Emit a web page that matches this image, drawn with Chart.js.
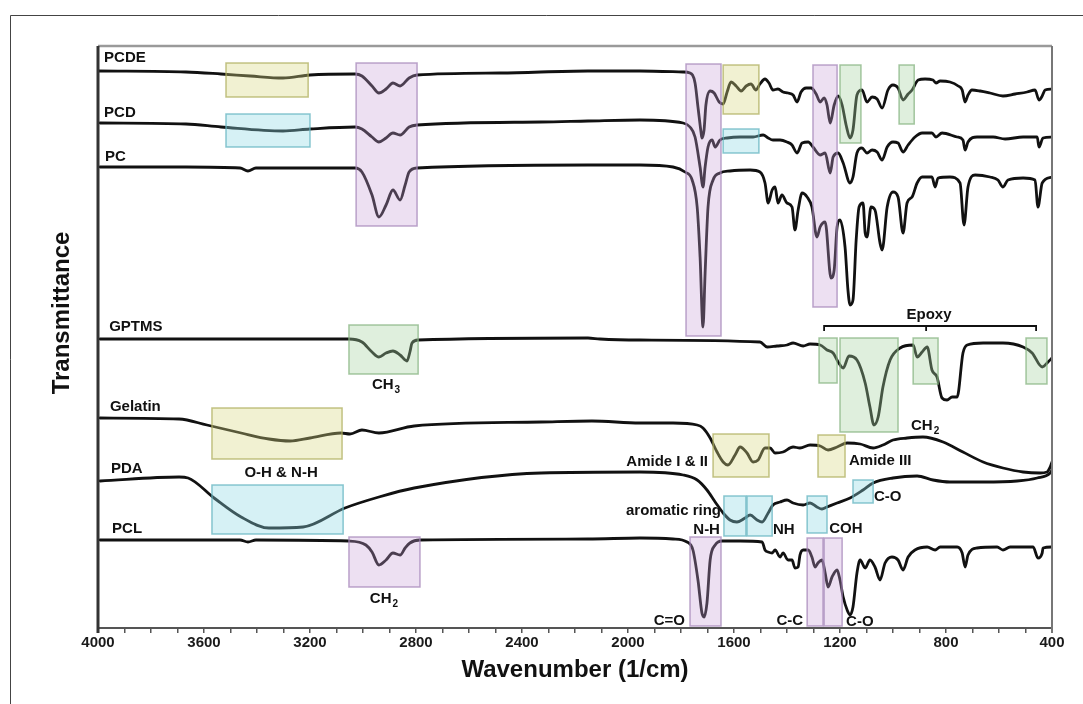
<!DOCTYPE html>
<html><head><meta charset="utf-8">
<script src="https://cdn.jsdelivr.net/npm/chart.js@4.4.1/dist/chart.umd.min.js"></script>
<style>html,body{margin:0;padding:0;background:#fff;}canvas{display:block;}</style>
</head><body>
<canvas id="c" width="1083" height="704"></canvas>
<script>
// ---- data: [wavenumber (1/cm), transmittance (a.u., stacked)] ----
const PCDE = [[4000,111.4],[3668,111.2],[3536,110.8],[3426,110.4],[3302,110.0],[3200,110.6],[3030,110.8],[3004,110.4],[2966,108.4],[2940,107.0],[2913,107.8],[2887,109.0],[2860,108.4],[2826,110.0],[2796,110.6],[2483,111.0],[2151,111.4],[1955,111.4],[1792,111.2],[1766,111.0],[1747,109.0],[1736,104.2],[1724,99.0],[1721,98.0],[1713,99.6],[1706,104.6],[1690,107.4],[1675,107.0],[1656,105.2],[1641,104.8],[1626,107.2],[1611,109.2],[1592,108.4],[1573,107.4],[1554,108.4],[1536,108.8],[1517,107.6],[1502,108.8],[1483,109.8],[1468,109.0],[1453,107.6],[1434,107.8],[1415,107.2],[1396,107.0],[1377,106.6],[1362,105.2],[1347,107.2],[1328,108.0],[1309,108.0],[1290,106.8],[1275,105.2],[1260,106.0],[1249,104.6],[1237,101.0],[1222,104.6],[1207,106.4],[1192,104.6],[1177,100.6],[1162,98.0],[1151,99.6],[1136,106.6],[1117,107.6],[1098,105.2],[1079,106.2],[1060,105.8],[1041,104.0],[1019,107.6],[1000,108.6],[981,108.0],[962,105.6],[943,106.8],[928,107.6],[905,109.6],[879,109.8],[849,109.6],[838,109.0],[822,109.4],[785,109.2],[754,108.4],[739,107.6],[728,105.2],[717,106.6],[702,107.6],[671,107.4],[634,107.0],[585,106.4],[539,106.8],[494,107.2],[464,107.6],[449,105.6],[437,106.4],[426,107.6],[400,107.8]];
const PCD = [[3992,101.0],[3668,100.8],[3536,100.2],[3302,99.4],[3200,99.8],[3030,100.2],[3004,99.8],[2966,98.2],[2940,97.2],[2913,98.0],[2887,99.0],[2860,98.6],[2826,100.2],[2796,100.6],[2328,101.2],[2151,101.4],[1955,101.6],[1792,101.0],[1766,100.2],[1747,98.2],[1728,92.2],[1717,88.2],[1709,92.2],[1698,96.2],[1683,97.6],[1671,96.2],[1653,97.6],[1626,98.0],[1577,98.2],[1528,98.2],[1490,98.6],[1471,98.0],[1453,97.6],[1426,97.6],[1400,97.2],[1381,96.6],[1362,95.0],[1343,97.0],[1320,97.2],[1302,96.2],[1275,94.6],[1256,95.0],[1237,91.0],[1226,94.2],[1207,95.0],[1188,93.0],[1162,89.0],[1151,90.2],[1136,95.0],[1117,96.0],[1098,95.0],[1079,95.6],[1060,95.2],[1041,93.6],[1022,96.2],[1000,97.2],[981,97.0],[962,95.2],[943,96.6],[917,98.2],[890,99.0],[853,99.0],[838,98.2],[815,99.0],[758,98.2],[736,97.6],[728,95.6],[717,97.2],[683,98.2],[622,98.2],[577,97.8],[509,98.2],[456,98.2],[449,96.2],[434,98.0],[400,98.2]];
const PC = [[3992,92.2],[3668,92.2],[3464,92.0],[3434,91.4],[3404,92.0],[3030,92.0],[3004,91.2],[2966,86.6],[2940,82.2],[2913,84.6],[2887,87.6],[2860,85.6],[2841,88.6],[2826,91.2],[2796,92.0],[2151,92.6],[1955,92.6],[1830,92.2],[1785,91.2],[1758,89.6],[1739,84.2],[1728,74.2],[1717,60.2],[1709,71.0],[1698,84.2],[1679,89.6],[1653,91.0],[1615,91.4],[1539,91.6],[1502,91.2],[1483,89.0],[1471,85.0],[1456,87.6],[1445,88.2],[1434,85.0],[1419,86.6],[1400,85.0],[1381,84.2],[1370,79.6],[1358,83.6],[1343,87.0],[1324,86.2],[1306,84.2],[1287,78.2],[1275,80.2],[1256,81.2],[1234,70.0],[1222,71.6],[1211,80.2],[1200,81.6],[1181,76.2],[1170,67.6],[1162,64.6],[1151,65.6],[1139,77.6],[1128,84.2],[1113,85.0],[1105,79.0],[1098,78.2],[1083,84.2],[1068,83.6],[1049,77.0],[1041,75.6],[1022,84.2],[1000,87.2],[981,86.2],[962,79.0],[947,85.0],[928,86.2],[909,89.0],[890,90.2],[853,90.2],[841,88.2],[830,90.0],[785,90.2],[747,89.0],[732,80.6],[717,88.2],[690,90.6],[634,90.2],[604,89.6],[585,88.2],[566,89.6],[509,90.0],[464,89.6],[453,84.2],[437,89.0],[400,90.2]];
const GPTMS = [[3992,57.8],[3053,57.8],[3004,57.2],[2966,55.2],[2940,54.2],[2913,55.0],[2887,55.4],[2860,54.6],[2834,53.4],[2823,55.2],[2815,57.0],[2792,57.6],[2151,58.0],[2106,57.8],[1955,57.6],[1502,57.2],[1475,56.2],[1438,56.4],[1400,56.6],[1377,57.0],[1339,56.4],[1313,56.8],[1275,56.6],[1249,55.6],[1226,55.0],[1207,53.2],[1188,52.0],[1166,54.4],[1136,53.6],[1105,49.0],[1087,44.2],[1072,40.6],[1056,42.2],[1038,48.2],[1011,53.6],[973,56.0],[924,56.6],[909,54.2],[890,55.2],[871,56.2],[853,51.6],[834,50.2],[815,46.0],[796,45.6],[777,46.2],[758,46.2],[736,55.0],[720,56.6],[660,57.0],[585,57.0],[509,56.2],[475,55.0],[437,52.2],[415,53.2],[400,54.0]];
const Gelatin = [[3992,42.0],[3694,41.8],[3589,40.6],[3460,39.0],[3355,37.8],[3275,37.4],[3200,38.0],[3083,39.0],[3049,38.8],[3004,39.6],[2940,39.0],[2807,40.4],[2328,41.2],[2136,41.4],[1955,41.0],[1830,41.0],[1739,40.6],[1717,40.0],[1690,38.0],[1664,35.2],[1641,33.2],[1623,32.6],[1596,34.6],[1577,36.2],[1551,35.0],[1528,33.2],[1509,33.6],[1483,36.0],[1464,36.0],[1445,35.0],[1415,35.2],[1377,36.2],[1351,36.0],[1313,36.6],[1275,36.4],[1245,35.6],[1211,36.2],[1173,37.0],[1124,36.8],[1075,36.0],[1038,36.6],[1000,37.6],[947,38.0],[887,38.2],[811,37.2],[736,35.2],[660,33.2],[585,32.0],[509,31.2],[445,31.0],[419,31.2],[407,32.2],[400,33.2]];
const PDA = [[3992,29.4],[3694,30.2],[3660,30.0],[3562,26.0],[3460,22.2],[3355,20.0],[3226,20.2],[3068,24.0],[2940,26.2],[2807,28.0],[2328,31.0],[1955,31.2],[1792,30.6],[1739,29.6],[1702,27.6],[1671,25.2],[1641,23.0],[1615,21.6],[1589,21.2],[1558,22.0],[1539,22.6],[1513,21.6],[1494,21.2],[1471,23.0],[1453,24.6],[1426,25.2],[1400,25.6],[1377,25.0],[1339,24.6],[1313,25.0],[1287,24.2],[1268,23.8],[1249,24.2],[1211,25.0],[1162,26.0],[1113,27.6],[1075,29.0],[1000,30.0],[909,30.4],[849,29.6],[785,29.2],[660,29.2],[532,29.4],[456,30.0],[407,31.0],[400,31.6]];
const PCL = [[3992,17.6],[3464,17.6],[3434,17.2],[3404,17.6],[3053,17.4],[2989,16.6],[2966,15.2],[2940,12.6],[2913,13.6],[2887,15.0],[2860,14.6],[2841,16.0],[2823,17.0],[2785,17.6],[2151,17.8],[1955,18.0],[1830,17.8],[1777,17.2],[1755,15.6],[1736,9.6],[1721,3.0],[1713,2.2],[1702,5.0],[1690,13.6],[1671,16.6],[1645,17.4],[1577,17.4],[1494,17.2],[1483,15.6],[1471,15.2],[1456,15.0],[1445,15.6],[1426,14.2],[1415,15.0],[1396,13.6],[1381,13.6],[1370,12.0],[1358,12.2],[1351,14.6],[1339,15.6],[1320,15.6],[1306,14.2],[1294,12.2],[1283,13.0],[1268,13.6],[1256,11.0],[1245,8.2],[1230,10.2],[1211,11.6],[1200,9.6],[1188,6.2],[1173,3.6],[1162,2.6],[1151,4.2],[1136,11.0],[1124,13.6],[1105,12.0],[1087,13.6],[1068,12.2],[1049,9.6],[1030,13.0],[1004,14.2],[981,13.6],[962,11.6],[943,14.2],[917,15.6],[871,16.2],[841,15.6],[822,16.2],[758,16.2],[739,15.0],[728,12.2],[717,14.6],[683,16.0],[607,16.2],[585,15.6],[558,16.2],[471,16.2],[453,14.0],[437,15.0],[434,16.0],[400,16.2]];

const seriesNames = ['PCDE','PCD','PC','GPTMS','Gelatin','PDA','PCL'];
const seriesData  = [PCDE, PCD, PC, GPTMS, Gelatin, PDA, PCL];
// series name label anchors [wavenumber, value]
const seriesLabelPos = [[3977,114.0],[3977,103.0],[3974,94.2],[3958,60.2],[3955,44.2],[3951,31.8],[3947,19.8]];

const xTickLabels = [4000,3600,3200,2800,2400,2000,1600,1200,800,400];

// highlight boxes: [wHigh, wLow, vTop, vBottom, colour]
const boxes = [
  [3517,3207,113.0,106.2,'y'],[3517,3200,102.8,96.2,'c'],[3026,2796,113.0,80.4,'p'],
  [1781,1649,112.8,58.4,'p'],[1641,1506,112.6,102.8,'y'],[1641,1506,99.8,95.0,'c'],
  [1302,1211,112.6,64.2,'p'],[1200,1121,112.6,97.0,'g'],[977,920,112.6,100.8,'g'],
  [3053,2792,60.6,50.8,'g'],[1279,1211,58.0,49.0,'g'],[1200,981,58.0,39.2,'g'],
  [924,830,58.0,48.8,'g'],[498,419,58.0,48.8,'g'],
  [3570,3079,44.0,33.8,'y'],[1679,1468,38.8,30.2,'y'],[1283,1181,38.6,30.2,'y'],
  [3570,3075,28.6,18.8,'c'],[1638,1555,26.4,18.4,'c'],[1551,1456,26.4,18.4,'c'],
  [1324,1249,26.4,19.0,'c'],[1151,1075,29.6,25.0,'c'],
  [3053,2785,18.2,8.2,'p'],[1766,1649,18.2,0.4,'p'],[1324,1264,18.0,0.4,'p'],[1260,1192,18.0,0.4,'p']
];
// annotations: [text, subscript, wavenumber, value, align]
const notes = [
  ['CH','3',2913,48.6,'center'],['O-H & N-H','',3309,31.0,'center'],['CH','2',2921,5.8,'center'],
  ['CH','2',932,40.4,'left'],['Amide I & II','',1698,33.2,'right'],['Amide III','',1166,33.4,'left'],
  ['aromatic ring','',1649,23.4,'right'],['N-H','',1653,19.6,'right'],['NH','',1453,19.6,'left'],
  ['COH','',1241,19.8,'left'],['C-O','',1072,26.2,'left'],['C=O','',1785,1.4,'right'],
  ['C-C','',1339,1.4,'right'],['C-O','',1177,1.2,'left'],['Epoxy','',864,62.6,'center']
];
// epoxy bracket: [wStart, wMid, wEnd, vLine, vTick]
const epoxyBracket = [1260, 875, 460, 60.4, 59.4];

const FONT = '"Liberation Sans", Arial, Helvetica, sans-serif';
const fills = {y:'rgba(215,215,130,0.36)', c:'rgba(140,215,228,0.36)', p:'rgba(200,160,215,0.32)', g:'rgba(165,212,160,0.36)'};
const strokes = {y:'rgba(175,175,95,0.75)', c:'rgba(100,180,192,0.75)', p:'rgba(165,135,185,0.75)', g:'rgba(135,180,130,0.75)'};

const decor = {
  id:'decor',
  beforeDraw(chart){
    const ctx = chart.ctx;
    ctx.save();
    ctx.fillStyle = '#fff'; ctx.fillRect(0,0,chart.width,chart.height);
    ctx.strokeStyle = '#444'; ctx.lineWidth = 1;
    ctx.beginPath(); ctx.moveTo(10.5,704); ctx.lineTo(10.5,15.5); ctx.lineTo(1083,15.5); ctx.stroke();
    ctx.restore();
  },
  afterDatasetsDraw(chart){
    const ctx = chart.ctx, xs = chart.scales.x, ys = chart.scales.y, a = chart.chartArea;
    ctx.save();
    boxes.forEach(b => {
      const x1 = xs.getPixelForValue(b[0]), x2 = xs.getPixelForValue(b[1]);
      const y1 = ys.getPixelForValue(b[2]), y2 = ys.getPixelForValue(b[3]);
      ctx.fillStyle = fills[b[4]];
      ctx.fillRect(x1, y1, x2-x1, y2-y1);
      ctx.strokeStyle = strokes[b[4]]; ctx.lineWidth = 1.5;
      ctx.strokeRect(x1, y1, x2-x1, y2-y1);
    });
    ctx.lineCap = 'butt';
    ctx.strokeStyle = '#9a9a9a'; ctx.lineWidth = 2.5;
    ctx.beginPath(); ctx.moveTo(a.left, a.top); ctx.lineTo(a.right, a.top); ctx.stroke();
    ctx.strokeStyle = '#777'; ctx.lineWidth = 2;
    ctx.beginPath(); ctx.moveTo(a.right, a.top); ctx.lineTo(a.right, a.bottom+5); ctx.stroke();
    ctx.strokeStyle = '#333'; ctx.lineWidth = 3;
    ctx.beginPath(); ctx.moveTo(a.left, a.top); ctx.lineTo(a.left, a.bottom+5); ctx.stroke();
    const bx1 = xs.getPixelForValue(epoxyBracket[0]), bxm = xs.getPixelForValue(epoxyBracket[1]), bx2 = xs.getPixelForValue(epoxyBracket[2]);
    const by = ys.getPixelForValue(epoxyBracket[3]), bt = ys.getPixelForValue(epoxyBracket[4]);
    ctx.strokeStyle = '#111'; ctx.lineWidth = 1.8;
    ctx.beginPath();
    ctx.moveTo(bx1, bt); ctx.lineTo(bx1, by); ctx.lineTo(bx2, by); ctx.lineTo(bx2, bt);
    ctx.moveTo(bxm, by); ctx.lineTo(bxm, bt);
    ctx.stroke();
    ctx.fillStyle = '#111'; ctx.textBaseline = 'middle';
    const main = 'bold 15px ' + FONT, sub = 'bold 10px ' + FONT;
    seriesNames.forEach((n,i) => {
      ctx.font = main; ctx.textAlign = 'left';
      ctx.fillText(n, xs.getPixelForValue(seriesLabelPos[i][0]), ys.getPixelForValue(seriesLabelPos[i][1]));
    });
    notes.forEach(nt => {
      const px = xs.getPixelForValue(nt[2]), py = ys.getPixelForValue(nt[3]);
      ctx.font = main; const w1 = ctx.measureText(nt[0]).width;
      ctx.font = sub; const w2 = nt[1] ? ctx.measureText(nt[1]).width + 1 : 0;
      const tw = w1 + w2;
      let x0 = nt[4]==='left' ? px : nt[4]==='right' ? px - tw : px - tw/2;
      ctx.textAlign = 'left';
      ctx.font = main; ctx.fillText(nt[0], x0, py);
      if (nt[1]) { ctx.font = sub; ctx.fillText(nt[1], x0 + w1 + 1, py + 5); }
    });
    ctx.font = 'bold 24px ' + FONT; ctx.textAlign = 'center';
    ctx.translate(62, 313); ctx.rotate(-Math.PI/2);
    ctx.fillText('Transmittance', 0, 0);
    ctx.restore();
  }
};

new Chart(document.getElementById('c'), {
  type:'scatter',
  data:{ datasets: seriesData.map((d,i) => ({
    label: seriesNames[i],
    data: d.map(p => ({x:p[0], y:p[1]})),
    showLine:true, borderColor:'#111', borderWidth: 2.8, pointRadius:0,
    cubicInterpolationMode:'monotone',
    borderJoinStyle:'round', borderCapStyle:'round', fill:false
  }))},
  options:{
    responsive:false, animation:false, devicePixelRatio:1,
    layout:{padding:{left:98, right:31, top:46, bottom:0}},
    plugins:{legend:{display:false}, tooltip:{enabled:false}},
    scales:{
      x:{type:'linear', reverse:true, min:400, max:4000, position:'bottom',
        afterFit(s){ s.height = 76; },
        ticks:{stepSize:100, autoSkip:false, maxRotation:0, padding:1, color:'#1a1a1a',
          font:{family:FONT, size:15, weight:'bold'},
          callback:(v)=> xTickLabels.includes(v) ? String(v) : ''},
        grid:{display:true, drawOnChartArea:false, drawTicks:true, tickLength:5, color:'#555', lineWidth:1.5},
        border:{display:true, color:'#555', width:2},
        title:{display:true, text:'Wavenumber (1/cm)', color:'#111', font:{family:FONT, size:24, weight:'bold'}, padding:{top:0, bottom:19}}
      },
      y:{display:false, min:0, max:116.4}
    }
  },
  plugins:[decor]
});
</script>
</body></html>
